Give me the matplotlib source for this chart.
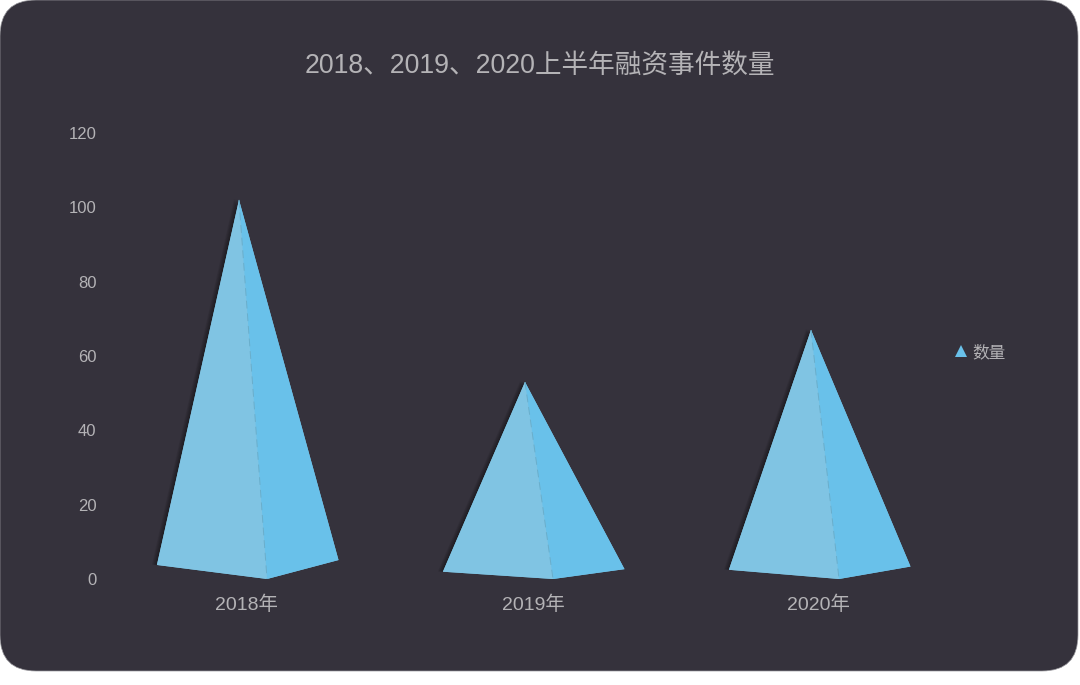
import matplotlib.pyplot as plt
import matplotlib.patheffects as pe
from matplotlib.lines import Line2D
from matplotlib.patches import FancyBboxPatch

plt.rcParams['font.family'] = ['Liberation Sans', 'Noto Sans CJK SC', 'DejaVu Sans']

years = ['2018年', '2019年', '2020年']
counts = [102, 53, 67]
yticks = [0, 20, 40, 60, 80, 100, 120]

bg = '#35323c'
left_face = '#80c4e3'
right_face = '#69c1ea'
seam = '#6aaecb'
grey = '#b4b3b6'

W, H = 1080, 685
fig = plt.figure(figsize=(W / 100, H / 100), dpi=100, facecolor='white')

# rounded card behind everything
back = fig.add_axes([0, 0, 1, 1])
back.set_xlim(0, W)
back.set_ylim(H, 0)
back.axis('off')
back.add_patch(FancyBboxPatch((36, 36), 1078 - 72, 671 - 72,
                              boxstyle='round,pad=36,rounding_size=36',
                              fc=bg, ec='#9a999e', lw=0.5))

ax = fig.add_axes([104 / W, 1 - 579 / H, (962 - 104) / W, (579 - 133) / H])
ax.patch.set_alpha(0)
ax.set_xlim(-0.5, 2.5)
ax.set_ylim(0, 120)

# soft shadow to the left of each pyramid
shadow = [pe.SimplePatchShadow(offset=(-d, 0.3), shadow_rgbFace='black', alpha=0.07)
          for d in (3.6, 3.0, 2.4, 1.8, 1.2, 0.6)]

for i, v in enumerate(counts):
    top = (i - 0.028, v)
    base_l = (i - 0.315, v * 0.037)
    base_f = (i + 0.07, 0)
    base_r = (i + 0.32, v * 0.05)
    ax.fill(*zip(top, base_l, base_f, base_r), color=left_face, lw=0,
            path_effects=shadow + [pe.Normal()], zorder=2)
    ax.fill(*zip(top, base_l, base_f), color=left_face, lw=0, zorder=3)
    ax.fill(*zip(top, base_f, base_r), color=right_face, lw=0, zorder=3)
    ax.plot(*zip(top, base_f), color=seam, lw=0.7, ls=(0, (8, 5)), zorder=4)

ax.set_xticks(range(len(years)), years)
ax.set_yticks(yticks)
ax.tick_params(axis='x', length=0, pad=12, labelsize=14, labelcolor=grey)
ax.tick_params(axis='y', length=0, pad=5.5, labelsize=12, labelcolor=grey)
for s in ax.spines.values():
    s.set_visible(False)

fig.text(540 / W, 1 - 65.5 / H, '2018、2019、2020上半年融资事件数量',
         color=grey, fontsize=19.2, ha='center', va='center')

handle = Line2D([], [], ls='none', marker='^', ms=8, color=right_face, mew=0)
ax.legend([handle], ['数量'], loc='center left', frameon=False,
          bbox_to_anchor=(936 / W, 1 - 352 / H), bbox_transform=fig.transFigure,
          fontsize=12, labelcolor=grey, handletextpad=0.1, handlelength=1.2)

fig.savefig('out.png', dpi=100, facecolor='white')
